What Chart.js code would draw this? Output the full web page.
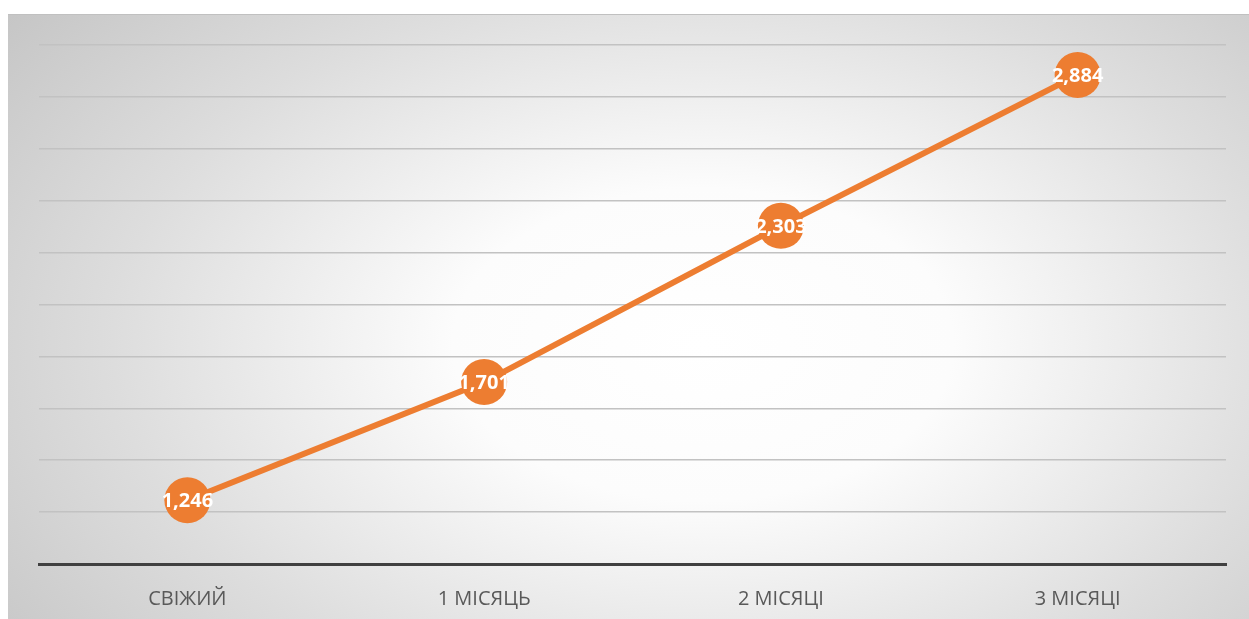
<!DOCTYPE html>
<html>
<head>
<meta charset="utf-8">
<script src="https://cdn.jsdelivr.net/npm/chart.js@4.4.1/dist/chart.umd.min.js"></script>
<style>
  html, body { margin: 0; padding: 0; background: #fff; }
  body { width: 1249px; height: 619px; overflow: hidden; position: relative; }
  #box {
    position: absolute; left: 8px; top: 14px; width: 1241px; height: 634px;
    border-top: 1px solid #c0c0c0;
    background: radial-gradient(ellipse 72% 88% at 56% 52%, #ffffff 0%, #fcfcfc 28%, #dddddd 66%, #c4c4c4 100%);
  }
  canvas { display: block; }
</style>
</head>
<body>
<div id="box"><canvas id="c" width="1241" height="619"></canvas></div>
<script>
// Line with labelled markers: value growth over storage time
var categories = ["СВІЖИЙ", "1 МІСЯЦЬ", "2 МІСЯЦІ", "3 МІСЯЦІ"];
var values = [1246, 1701, 2303, 2884];
var yMin = 1000, yMax = 3000, yStep = 200;

var orange = "#ED7D31";

// write each value in white on top of its marker
var pointLabels = {
  id: "pointLabels",
  afterDatasetsDraw: function(chart) {
    var ctx = chart.ctx;
    var meta = chart.getDatasetMeta(0);
    ctx.save();
    ctx.fillStyle = "#ffffff";
    ctx.font = "bold 20px 'Open Sans', sans-serif";
    ctx.textAlign = "center";
    ctx.textBaseline = "middle";
    meta.data.forEach(function(pt, i) {
      ctx.fillText(values[i].toLocaleString("en-US"), pt.x, pt.y + 1);
    });
    ctx.restore();
  }
};

new Chart(document.getElementById("c").getContext("2d"), {
  type: "line",
  data: {
    labels: categories,
    datasets: [{
      data: values,
      borderColor: orange,
      backgroundColor: orange,
      borderWidth: 6,
      pointRadius: 23,
      pointHoverRadius: 23,
      pointBorderWidth: 0,
      pointBackgroundColor: orange,
      tension: 0,
      fill: false
    }]
  },
  options: {
    responsive: false,
    animation: false,
    events: [],
    layout: { padding: { left: 31, right: 21, top: 30, bottom: 0 } },
    plugins: { legend: { display: false }, tooltip: { enabled: false } },
    scales: {
      x: {
        offset: true,
        grid: { display: false, drawTicks: false },
        border: { display: true, color: "#404040", width: 3 },
        ticks: { color: "#595959", font: { size: 20, family: "'Open Sans', sans-serif" }, padding: 23 }
      },
      y: {
        min: yMin,
        max: yMax,
        ticks: { display: false, stepSize: yStep },
        grid: { color: "#c2c2c2", lineWidth: 1.5, drawTicks: false },
        border: { display: false }
      }
    }
  },
  plugins: [pointLabels]
});
</script>
</body>
</html>
